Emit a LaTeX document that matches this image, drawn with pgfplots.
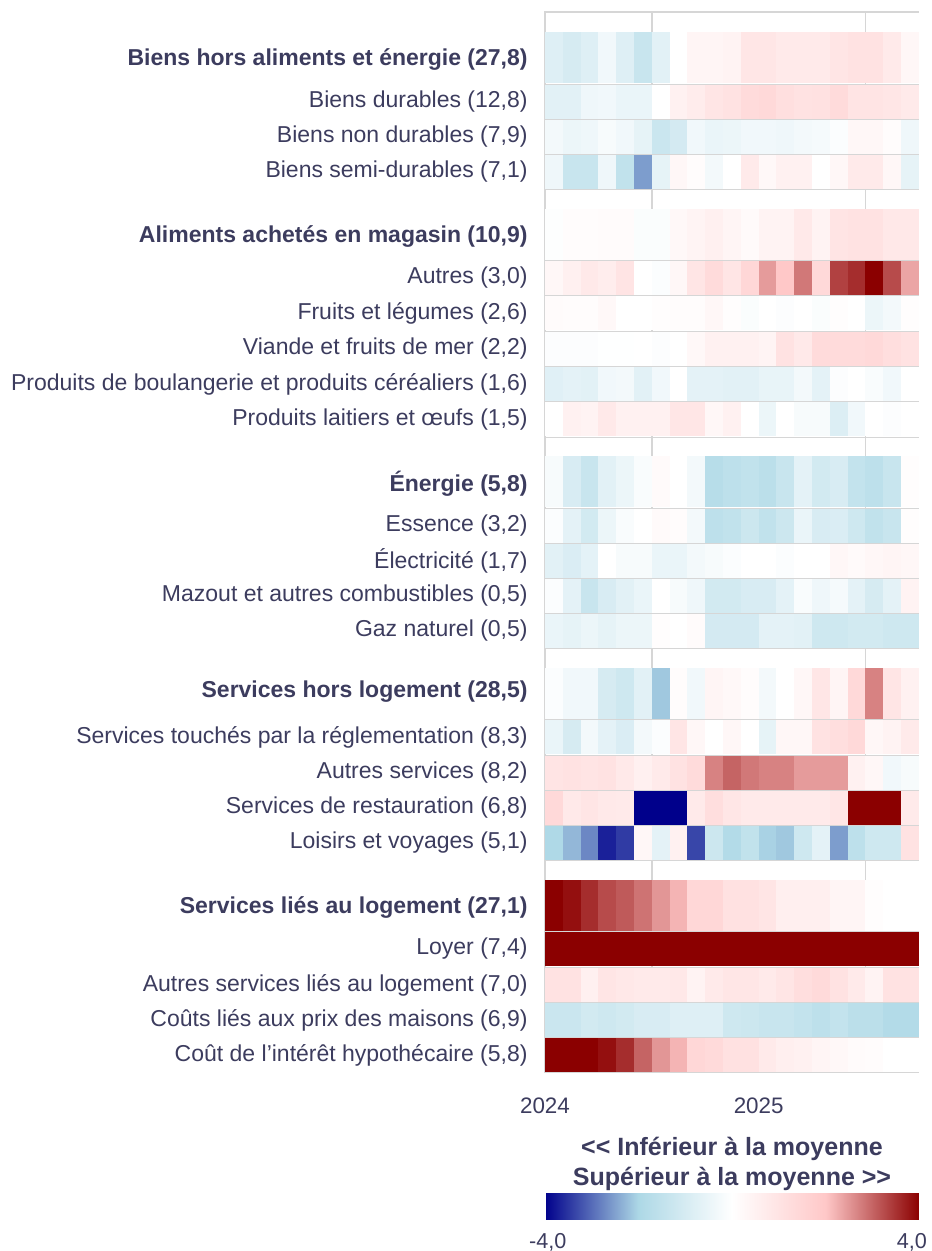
\documentclass[border=0pt]{standalone}
\usepackage{pgfplots}
\usepackage{pgfplotstable}
\pgfplotsset{compat=1.18}
\usepackage{fontspec}
\setmainfont{Liberation Sans}

\definecolor{txt}{HTML}{3C3C5E}
\definecolor{gridc}{HTML}{D6D6D6}

\pgfplotsset{colormap={ecart}{rgb255=(0,0,139) rgb255=(173,216,230) rgb255=(255,255,255) rgb255=(255,200,200) rgb255=(139,0,0)}}

% one cell = one month; sub-rows are 17pt high, aggregate rows 25.5pt
\pgfdeclareplotmark{cellS}{\pgfpathrectangle{\pgfpoint{-4.5pt}{-8.5pt}}{\pgfpoint{9pt}{17pt}}\pgfusepathqfill}
\pgfdeclareplotmark{cellH}{\pgfpathrectangle{\pgfpoint{-4.5pt}{-12.75pt}}{\pgfpoint{9pt}{25.5pt}}\pgfusepathqfill}

% deviation from average, Jan 2024 (m0) to Sep 2025 (m20)
\pgfplotstableread{
name m0 m1 m2 m3 m4 m5 m6 m7 m8 m9 m10 m11 m12 m13 m14 m15 m16 m17 m18 m19 m20
r1 -0.8 -1.0 -0.8 -0.35 -0.8 -1.35 -0.7 0.0 0.35 0.35 0.45 0.9 0.9 0.75 0.75 0.75 0.95 1.05 1.05 0.75 0.3
r2 -0.7 -0.7 -0.4 -0.35 -0.5 -0.5 0 0.5 0.7 0.95 1.05 1.3 1.4 1.15 1.05 1.1 1.3 1.0 1.0 0.9 0.75
r3 -0.3 -0.45 -0.4 -0.2 -0.35 -0.6 -1.3 -1.05 -0.35 -0.5 -0.45 -0.35 -0.35 -0.4 -0.3 -0.25 -0.1 0.3 0.3 0.1 -0.4
r4 -0.4 -1.35 -1.35 -0.4 -1.5 -2.55 -0.6 0.3 0.1 -0.3 0 0.75 0.25 0.5 0.5 0 0.3 0.75 0.75 0.3 -0.6
r5 -0.05 0.12 0.12 0.15 0.15 -0.12 -0.12 0.25 0.4 0.55 0.35 0.2 0.45 0.45 0.8 0.45 1.0 1.05 1.05 0.85 0.85
r6 0.3 0.55 0.8 0.65 1.0 0 -0.1 0.3 0.95 1.3 0.95 1.45 2.45 2.0 2.8 1.4 3.35 3.55 4.0 3.25 2.35
r7 0.15 0.1 0.1 0.25 0 0 0.08 0.1 0.1 0.3 0.08 -0.12 0 -0.08 0 -0.12 0.08 0 -0.45 -0.3 0.08
r8 -0.08 -0.08 -0.08 -0.02 -0.02 0 -0.08 0 0.25 0.5 0.5 0.5 0.4 1.05 0.8 1.3 1.3 1.3 1.4 1.2 1.05
r9 -0.75 -0.65 -0.7 -0.35 -0.3 -0.7 -0.35 0 -0.65 -0.65 -0.7 -0.7 -0.55 -0.55 -0.3 -0.65 -0.08 0 -0.15 -0.35 0
r10 0 0.5 0.45 0.8 0.5 0.5 0.5 0.9 0.9 0.3 0.5 0 -0.45 0 -0.2 -0.2 -0.85 -0.35 0 -0.08 0
r11 -0.2 -0.95 -1.35 -0.7 -0.45 -0.15 0.2 0 -0.3 -1.75 -1.6 -1.5 -1.65 -1.35 -0.65 -1.1 -0.95 -1.45 -1.6 -1.35 0.08
r12 -0.1 -0.65 -1.1 -0.45 -0.15 0 0.2 0.1 -0.3 -1.6 -1.5 -1.25 -1.5 -1.25 -0.5 -0.95 -0.9 -1.2 -1.5 -1.35 0.08
r13 -0.7 -0.9 -0.65 0 -0.2 -0.2 -0.5 -0.5 -0.3 -0.2 -0.1 0 0 -0.1 0 0 0.3 0.2 0.3 0.35 0.3
r14 -0.1 -0.65 -1.35 -0.95 -0.7 -0.5 0 -0.2 -0.4 -1.1 -1.1 -0.95 -0.95 -0.65 -0.15 -0.4 -0.25 -0.65 -1.0 -0.65 0.45
r15 -0.5 -0.6 -0.45 -0.6 -0.45 -0.45 0.08 0 0.15 -1.05 -1.05 -1.05 -0.65 -0.65 -0.7 -1.2 -1.2 -1.1 -1.1 -1.2 -1.2
r16 -0.1 -0.35 -0.35 -1.0 -1.2 -0.7 -2.15 0.1 -0.35 0.35 0.25 0.1 -0.3 0 0.3 0.9 0.35 1.4 2.7 0.95 0.5
r17 -0.5 -1.0 -0.3 -0.65 -0.9 -0.3 -0.1 0.95 0.3 0 0.3 0 -0.6 0.3 0.3 1.05 1.2 1.4 0.3 0.45 0.75
r18 1.0 1.05 1.0 1.05 0.8 0.55 0.75 1.05 1.3 2.7 3.0 2.8 2.7 2.7 2.45 2.45 2.45 0.5 0.3 -0.35 -0.2
r19 1.4 0.8 0.95 0.8 0.75 -4 -4 -4 0.75 1.2 0.9 0.75 0.75 0.75 0.75 0.75 0.9 4 4 4 0.75
r20 -1.95 -2.3 -2.75 -3.7 -3.45 0.3 -0.65 0.5 -3.35 -1.25 -1.85 -1.5 -2.05 -2.15 -1.2 -0.65 -2.55 -1.6 -1.2 -1.2 1.05
r21 4 3.85 3.55 3.25 3.1 2.85 2.5 2.2 1.45 1.45 1.1 1.1 0.95 0.6 0.6 0.6 0.35 0.35 0.08 0 0
r22 4 4 4 4 4 4 4 4 4 4 4 4 4 4 4 4 4 4 4 4 4
r23 1.05 1.05 0.55 0.95 0.85 0.75 0.75 0.85 0.45 0.75 0.9 0.9 0.75 0.95 1.2 1.35 1.05 0.75 0.45 1.05 1.05
r24 -1.3 -1.3 -1.1 -1.2 -1.1 -0.95 -0.95 -0.8 -0.8 -0.8 -1.2 -1.25 -1.35 -1.35 -1.45 -1.6 -1.45 -1.65 -1.65 -1.85 -1.85
r25 4 4 4 3.85 3.55 3.0 2.5 2.2 1.45 1.35 1.1 1.1 0.75 0.6 0.5 0.35 0.25 0.15 0.1 0.02 0
}\rows
\pgfplotstabletranspose[colnames from=name]\months\rows

\newcommand\heatrow[3]{\addplot[scatter, only marks, scatter src=explicit, mark=#3]
  table[x expr=\coordindex+0.5, y expr=#2, meta=#1] {\months};}

\begin{document}
\begin{tikzpicture}
\begin{axis}[name=ax, scale only axis, width=187pt, height=530pt, clip=false,
    xmin=0, xmax=21, ymin=-1072, ymax=-12,
    colormap name=ecart, point meta min=-4, point meta max=4,
    axis line style={draw=none}, major tick length=0pt,
    xtick={0,12}, xticklabels={2024,2025},
    extra x ticks={6,18}, extra x tick labels={},
    extra x tick style={grid=major, major grid style={draw=gridc, line width=0.8pt}},
    ytick={-1055,-1020,-985,-949,-907.5,-843,-808,-773,-737,-692,-631,-596,-561,-526,-483.5,-419.5,-384,-349,-313.5,-278,-236.5,-172,-137,-102,-60},
    yticklabels={{Coût de l’intérêt hypothécaire (5,8)},{Coûts liés aux prix des maisons (6,9)},{Autres services liés au logement (7,0)},{Loyer (7,4)},{\textbf{Services liés au logement (27,1)}},
      {Loisirs et voyages (5,1)},{Services de restauration (6,8)},{Autres services (8,2)},{Services touchés par la réglementation (8,3)},{\textbf{Services hors logement (28,5)}},
      {Gaz naturel (0,5)},{Mazout et autres combustibles (0,5)},{Électricité (1,7)},{Essence (3,2)},{\textbf{Énergie (5,8)}},
      {Produits laitiers et œufs (1,5)},{Produits de boulangerie et produits céréaliers (1,6)},{Viande et fruits de mer (2,2)},{Fruits et légumes (2,6)},{Autres (3,0)},{\textbf{Aliments achetés en magasin (10,9)}},
      {Biens semi-durables (7,1)},{Biens non durables (7,9)},{Biens durables (12,8)},{\textbf{Biens hors aliments et énergie (27,8)}}},
    extra y ticks={-1037.5,-1002.5,-967,-931.5,-860.5,-825.5,-790.5,-755,-719.5,-648.5,-613.5,-578.5,-543.5,-508,-437,-401.75,-366.5,-331.25,-295.7,-260.5,-189.5,-154.5,-119.5,-84},
    extra y tick labels={},
    extra y tick style={grid=major, major grid style={draw=gridc, line width=0.45pt}},
    xticklabel style={font=\fontsize{11.2}{13}\selectfont, text=txt, inner sep=0pt, yshift=-12.5pt},
    yticklabel style={font=\fontsize{11.5}{13}\selectfont, text=txt, inner sep=0pt, xshift=-8.5pt},
  ]
\draw[gridc, line width=1pt] (rel axis cs:1,1) -- (rel axis cs:0,1) -- (rel axis cs:0,0) -- (rel axis cs:1,0);
\heatrow{r1}{-57.5}{cellH}
\heatrow{r2}{-102}{cellS}
\heatrow{r3}{-137}{cellS}
\heatrow{r4}{-172}{cellS}
\heatrow{r5}{-234.5}{cellH}
\heatrow{r6}{-278}{cellS}
\heatrow{r7}{-313.5}{cellS}
\heatrow{r8}{-349}{cellS}
\heatrow{r9}{-384}{cellS}
\heatrow{r10}{-419.5}{cellS}
\heatrow{r11}{-481.5}{cellH}
\heatrow{r12}{-526}{cellS}
\heatrow{r13}{-561}{cellS}
\heatrow{r14}{-596}{cellS}
\heatrow{r15}{-631}{cellS}
\heatrow{r16}{-693.5}{cellH}
\heatrow{r17}{-737}{cellS}
\heatrow{r18}{-773}{cellS}
\heatrow{r19}{-808}{cellS}
\heatrow{r20}{-843}{cellS}
\heatrow{r21}{-905.5}{cellH}
\heatrow{r22}{-949}{cellS}
\heatrow{r23}{-985}{cellS}
\heatrow{r24}{-1020}{cellS}
\heatrow{r25}{-1055}{cellS}
\end{axis}
\pgfplotscolorbardrawstandalone[colormap name=ecart, point meta min=-4, point meta max=4,
  colorbar horizontal,
  colorbar shift/.style={},
  colorbar style={at={(ax.south west)}, anchor=north west, yshift=-60.5pt,
    scale only axis, width=187pt, height=13pt,
    xtick={-3.94,3.85}, xticklabels={{-4,0},{4,0}},
    axis line style={draw=none}, major tick length=0pt,
    xticklabel style={font=\fontsize{10.8}{13}\selectfont, text=txt, inner sep=0pt, yshift=-7.25pt},
    title={<\kern0pt< Inférieur à la moyenne\\Supérieur à la moyenne >\kern0pt>},
    title style={at={(0.5,1)}, anchor=south, yshift=-4.8pt, inner sep=0pt, align=center,
      font=\bfseries\fontsize{12.5}{15}\selectfont, text=txt}}]
\pgfresetboundingbox
\path[use as bounding box] ([shift={(-272.5pt,6pt)}]ax.north west) rectangle ([shift={(6pt,-89.5pt)}]ax.south east);
\end{tikzpicture}
\end{document}
